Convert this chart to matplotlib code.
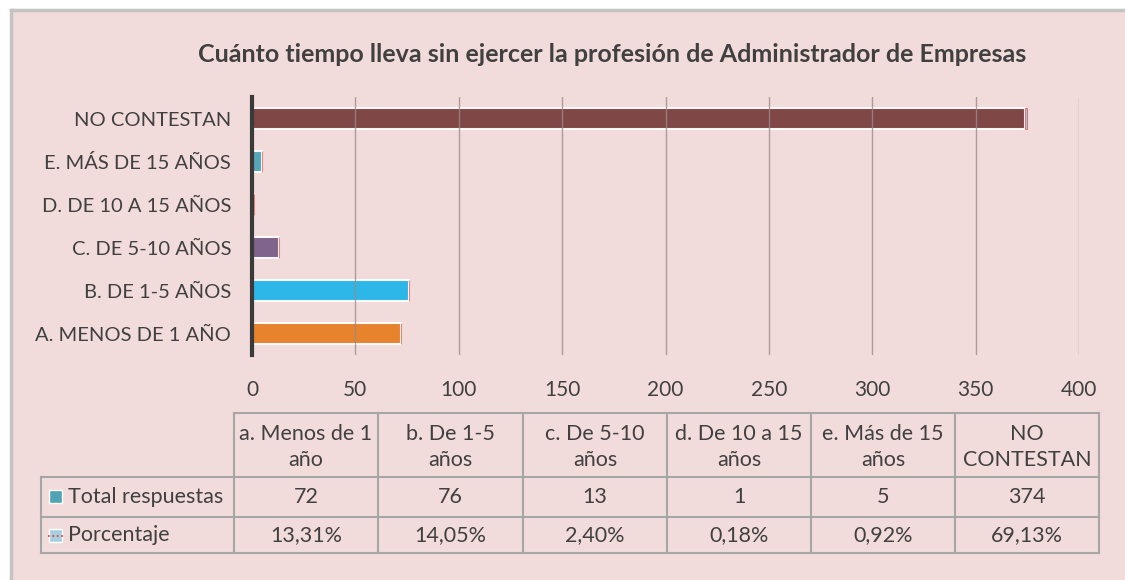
import matplotlib.pyplot as plt
from matplotlib.patches import Rectangle
from matplotlib.lines import Line2D

plt.rcParams['font.family'] = ['Lato', 'DejaVu Sans']

categories = ["A. MENOS DE 1 AÑO", "B. DE 1-5 AÑOS", "C. DE 5-10 AÑOS",
              "D. DE 10 A 15 AÑOS", "E. MÁS DE 15 AÑOS", "NO CONTESTAN"]
table_headers = ["a. Menos de 1\naño", "b. De 1-5\naños", "c. De 5-10\naños",
                 "d. De 10 a 15\naños", "e. Más de 15\naños", "NO\nCONTESTAN"]
total_respuestas = [72, 76, 13, 1, 5, 374]
porcentaje = [13.31, 14.05, 2.40, 0.18, 0.92, 69.13]
bar_colors = ["#E67E22", "#22B5EA", "#7B5E87", "#8FC3D8", "#4FA3B5", "#7A3F3F"]
xticks = [0, 50, 100, 150, 200, 250, 300, 350, 400]

W, H = 1125, 580
fig = plt.figure(figsize=(W / 100, H / 100), dpi=100)
fig.patch.set_facecolor("white")

# chart area background with grey left/top border
bg = Rectangle((11 / W, 0), 1 - 11 / W, 1 - 10 / H, transform=fig.transFigure,
               facecolor="#F2DCDB", edgecolor="none", zorder=-10)
fig.patches.append(bg)
fig.lines.append(Line2D([11 / W, 11 / W], [0, 1 - 10 / H], transform=fig.transFigure,
                        color="#C4C4C4", lw=2.5))
fig.lines.append(Line2D([11 / W, 1], [1 - 10 / H, 1 - 10 / H], transform=fig.transFigure,
                        color="#C4C4C4", lw=2.5))

ax = fig.add_axes([252 / W, 1 - 355 / H, (1079 - 252) / W, (355 - 97) / H])
ax.set_facecolor("none")
ypos = list(range(len(categories)))
ax.barh(ypos, total_respuestas, height=0.5, color=bar_colors, alpha=0.95,
        edgecolor=(1, 1, 1, 0.45), linewidth=1.5, zorder=1)
# percentage series stacked at the end (tiny slivers)
ax.barh(ypos, [p / 100 for p in porcentaje], left=total_respuestas, height=0.5,
        color="#A9CEE0", edgecolor=(0.88, 0.2, 0.2, 0.6), linewidth=0.8, zorder=2)
ax.set_xlim(0, 400)
ax.set_ylim(-0.5, len(categories) - 0.5)
ax.set_xticks(xticks)
ax.xaxis.grid(True, color="#9C8A8A", linewidth=1.0, alpha=0.8, zorder=3)
ax.set_axisbelow(False)
ax.set_yticks(ypos)
ax.set_yticklabels(categories, fontsize=14.5, color="#404040")
ax.tick_params(axis="both", length=0, colors="#404040")
ax.tick_params(axis="x", pad=18, labelsize=15)
ax.tick_params(axis="y", pad=15)
for s in ["top", "right", "bottom"]:
    ax.spines[s].set_visible(False)
ax.spines["left"].set_color("#3A3A3A")
ax.spines["left"].set_linewidth(3)
ax.spines["left"].set_zorder(5)

fig.text(612 / W, 1 - 55 / H,
         "Cuánto tiempo lleva sin ejercer la profesión de Administrador de Empresas",
         ha="center", va="center", fontsize=18, fontweight="bold", color="#404040")

# data table below the chart
col_edges = [234, 378, 523, 667, 811, 955, 1099]
row_edges = [413, 477, 517, 553]
lab_left = 41
line_kw = dict(transform=fig.transFigure, color="#A6A6A6", lw=1.5)


def fx(px):
    return px / W


def fy(py):
    return 1 - py / H


for x in col_edges:
    fig.lines.append(Line2D([fx(x), fx(x)], [fy(row_edges[0]), fy(row_edges[-1])], **line_kw))
fig.lines.append(Line2D([fx(lab_left), fx(lab_left)], [fy(row_edges[1]), fy(row_edges[-1])], **line_kw))
fig.lines.append(Line2D([fx(col_edges[0]), fx(col_edges[-1])], [fy(row_edges[0])] * 2, **line_kw))
for y in row_edges[1:]:
    fig.lines.append(Line2D([fx(lab_left), fx(col_edges[-1])], [fy(y)] * 2, **line_kw))

txt_kw = dict(ha="center", va="center", fontsize=15.5, color="#404040")
for i in range(len(table_headers)):
    cx = fx((col_edges[i] + col_edges[i + 1]) / 2)
    fig.text(cx, fy((row_edges[0] + row_edges[1]) / 2 + 2), table_headers[i], linespacing=1.35, **txt_kw)
    fig.text(cx, fy((row_edges[1] + row_edges[2]) / 2), str(total_respuestas[i]), **txt_kw)
    fig.text(cx, fy((row_edges[2] + row_edges[3]) / 2),
             f"{porcentaje[i]:.2f}%".replace(".", ","), **txt_kw)

# legend keys inside the table
fig.patches.append(Rectangle((fx(49), fy(503)), 13 / W, 13 / H, transform=fig.transFigure,
                             facecolor="#4FA3B5", edgecolor="white", lw=1))
fig.patches.append(Rectangle((fx(49), fy(542)), 13 / W, 13 / H, transform=fig.transFigure,
                             facecolor="#A9CEE0", edgecolor="white", lw=1))
fig.lines.append(Line2D([fx(48), fx(63)], [fy(536)] * 2, transform=fig.transFigure,
                        color="#E03030", lw=1.2, linestyle=":"))
fig.text(fx(68), fy((row_edges[1] + row_edges[2]) / 2), "Total respuestas",
         ha="left", va="center", fontsize=15.5, color="#404040")
fig.text(fx(68), fy((row_edges[2] + row_edges[3]) / 2), "Porcentaje",
         ha="left", va="center", fontsize=15.5, color="#404040")

fig.savefig("out.png", dpi=100, facecolor=fig.get_facecolor())
